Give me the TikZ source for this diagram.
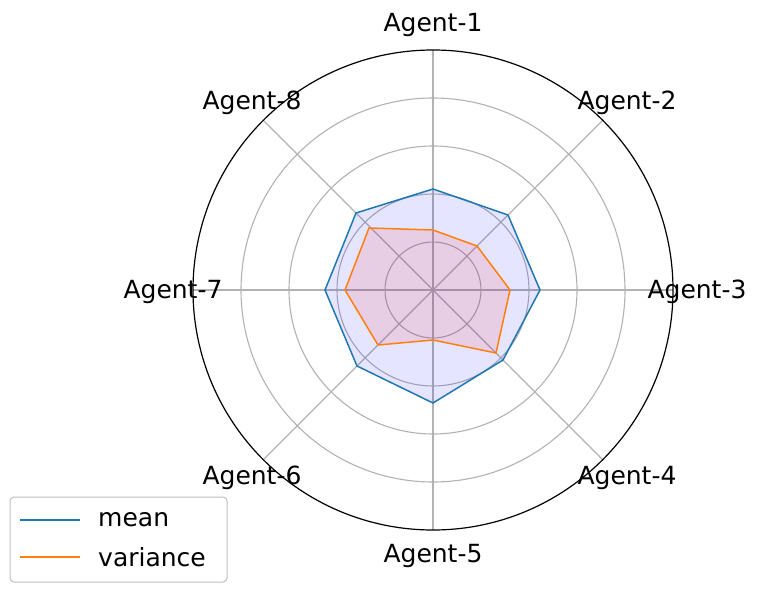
\documentclass[tikz,border=0pt]{standalone}
\usepackage{fontspec}
\setmainfont{DejaVu Sans}
\definecolor{mplblue}{HTML}{1F77B4}
\definecolor{mplorange}{HTML}{FF7F0E}
\begin{document}
\begin{tikzpicture}[x=1pt,y=-1pt,
  grid/.style={draw=black!30,line width=1.1pt},
  lab/.style={font=\fontsize{25}{30}\selectfont,inner sep=0pt}]
\useasboundingbox (0,0) rectangle (761,597);
\coordinate (c) at (433,290);
\foreach \r in {48,96,144,192} \draw[grid] (c) circle (\r);
\foreach \a in {0,45,...,315} \draw[grid] (c) -- ++(\a:240);
\path[fill=blue,fill opacity=0.1,draw=mplblue,line width=1.5pt]
  (433,189) -- (508,215) -- (540,290) -- (503,360) -- (433,403) -- (357,366) -- (325,290) -- (356,213) -- cycle;
\path[fill=red,fill opacity=0.1,draw=mplorange,line width=1.5pt]
  (433,230) -- (477,246) -- (510,290) -- (496,353) -- (433,340) -- (378,345) -- (345,290) -- (369,228) -- cycle;
\draw[line width=1.2pt] (c) circle (240);
\node[lab] (a1) at (433,25) {Agent-1};
\node[lab] (a2) at (627,103) {Agent-2};
\node[lab] (a3) at (697,292) {Agent-3};
\node[lab] (a4) at (627,478) {Agent-4};
\node[lab] (a5) at (433,556) {Agent-5};
\node[lab] (a6) at (252,478) {Agent-6};
\node[lab] (a7) at (173,292) {Agent-7};
\node[lab] (a8) at (252,103) {Agent-8};
\filldraw[fill=white,fill opacity=0.8,draw=black!25,line width=1pt,rounded corners=4pt] (10,497) rectangle (227,582);
\draw[mplblue,line width=1.5pt] (20,520) -- (80,520);
\draw[mplorange,line width=1.5pt] (20,557) -- (80,557);
\node[lab,anchor=west] (l1) at (98,520) {mean};
\node[lab,anchor=west] (l2) at (98,557) {variance};
\end{tikzpicture}
\end{document}
